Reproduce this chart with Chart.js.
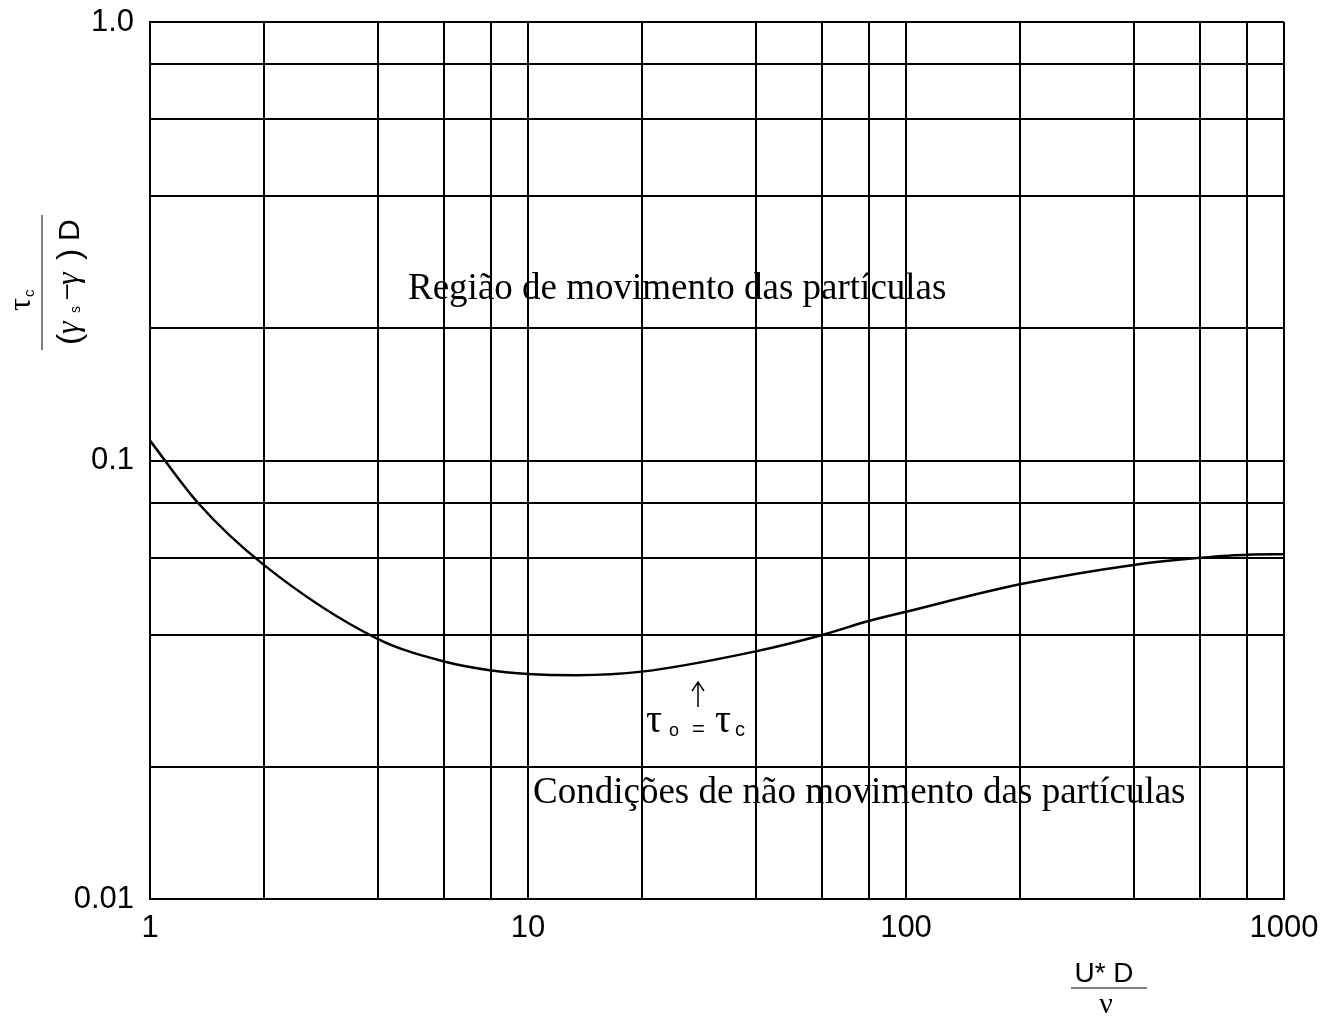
<!DOCTYPE html>
<html>
<head>
<meta charset="utf-8">
<title>Shields</title>
<script src="https://cdn.jsdelivr.net/npm/chart.js@4.4.1/dist/chart.umd.min.js"></script>
<style>
  html, body { margin: 0; padding: 0; background: #fff; }
  #wrap { width: 1337px; height: 1021px; }
</style>
</head>
<body>
<div id="wrap"><canvas id="myChart" width="1337" height="1021"></canvas></div>
<script>
// U*D/nu values
var reynolds = [1, 1.34, 2, 4, 6, 8, 10, 13.5, 20, 40, 60, 80, 100, 200, 400, 600, 800, 1000];
// tau_c / ((gamma_s - gamma) D)
var shields = [0.111, 0.080, 0.0578, 0.0392, 0.0348, 0.0332, 0.0326, 0.0324, 0.0330, 0.0367, 0.0400, 0.0431, 0.0452, 0.0522, 0.0578, 0.0600, 0.0610, 0.0611];

var xGrid = [1, 2, 4, 6, 8, 10, 20, 40, 60, 80, 100, 200, 400, 600, 800, 1000];
var xLabels = { 1: '1', 10: '10', 100: '100', 1000: '1000' };
var yGrid = [0.01, 0.02, 0.04, 0.06, 0.08, 0.1, 0.2, 0.4, 0.6, 0.8, 1];
var yLabels = { 0.01: '0.01', 0.1: '0.1', 1: '1.0' };

var points = [];
for (var i = 0; i < reynolds.length; i++) {
  points.push({ x: reynolds[i], y: shields[i] });
}

var sans = '"Liberation Sans", Arial, sans-serif';
var serif = '"Liberation Serif", "Times New Roman", serif';

// texts drawn on top of the chart
var textPlugin = {
  id: 'texts',
  afterDraw: function(chart) {
    var c = chart.ctx;
    c.save();
    c.fillStyle = '#000';
    c.strokeStyle = '#000';
    c.textBaseline = 'alphabetic';

    c.font = '37px ' + serif;
    c.textAlign = 'left';
    c.fillText('Região de movimento das partículas', 408, 299);
    c.fillText('Condições de não movimento das partículas', 533, 803);

    // tau_o = tau_c with arrow
    c.font = '40px ' + serif;
    c.fillText('τ', 646, 732);
    c.fillText('τ', 715, 732);
    c.font = '18px ' + sans;
    c.fillText('o', 669, 736);
    c.font = '20px ' + sans;
    c.fillText('c', 735, 736);
    c.font = '22px ' + sans;
    c.fillText('=', 692, 736);
    c.lineWidth = 1.5;
    c.beginPath();
    c.moveTo(698, 707); c.lineTo(698, 683);
    c.moveTo(692, 691); c.lineTo(698, 682); c.lineTo(704, 691);
    c.stroke();

    // x axis title: U*D / nu
    c.textAlign = 'center';
    c.font = '28px ' + sans;
    c.fillText('U* D', 1104, 982);
    c.lineWidth = 1;
    c.beginPath();
    c.moveTo(1071, 988); c.lineTo(1147, 988);
    c.stroke();
    c.font = '30px ' + serif;
    c.fillText('ν', 1106, 1013);

    // y axis title: tau_c / ((gamma_s - gamma) D)
    c.translate(42, 282);
    c.rotate(-Math.PI / 2);
    c.lineWidth = 1;
    c.beginPath();
    c.moveTo(-68, 0); c.lineTo(67, 0);
    c.stroke();
    c.textAlign = 'left';
    c.font = '32px ' + serif;
    c.fillText('τ', -29, -12);
    c.font = '15px ' + sans;
    c.fillText('c', -15, -8);
    c.font = '34px ' + sans;
    c.fillText('(', -63, 38);
    c.font = 'italic 32px ' + serif;
    c.fillText('γ', -52, 36);
    c.font = '14px ' + sans;
    c.fillText('s', -31, 38);
    c.font = '26px ' + sans;
    c.fillText('–', -17, 32);
    c.font = 'italic 32px ' + serif;
    c.fillText('γ', -3, 36);
    c.font = '34px ' + sans;
    c.fillText(')', 22, 38);
    c.font = '30px ' + sans;
    c.fillText('D', 41, 37);
    c.restore();
  }
};

var ctx = document.getElementById('myChart').getContext('2d');
var shieldsChart = new Chart(ctx, {
  type: 'scatter',
  data: {
    datasets: [{
      label: 'Shields',
      data: points,
      showLine: true,
      borderColor: '#000',
      borderWidth: 2.5,
      pointRadius: 0,
      cubicInterpolationMode: 'monotone',
      fill: false
    }]
  },
  options: {
    responsive: false,
    animation: false,
    layout: { padding: { top: 22, right: 53, left: 0, bottom: 0 } },
    plugins: {
      legend: { display: false },
      tooltip: { enabled: false }
    },
    scales: {
      x: {
        type: 'logarithmic',
        min: 1,
        max: 1000,
        afterBuildTicks: function(scale) {
          scale.ticks = xGrid.map(function(v) { return { value: v }; });
        },
        afterFit: function(scale) {
          scale.height = 122;
          scale.paddingLeft = 0;
          scale.paddingRight = 0;
        },
        ticks: {
          autoSkip: false,
          maxRotation: 0,
          padding: 11,
          color: '#000',
          font: { family: sans, size: 31 },
          callback: function(v) { return xLabels[v] || ''; }
        },
        grid: { color: '#000', lineWidth: 2, drawTicks: false },
        border: { color: '#000', width: 2 }
      },
      y: {
        type: 'logarithmic',
        min: 0.01,
        max: 1,
        afterBuildTicks: function(scale) {
          scale.ticks = yGrid.map(function(v) { return { value: v }; });
        },
        afterFit: function(scale) {
          scale.width = 150;
          scale.paddingTop = 0;
          scale.paddingBottom = 0;
        },
        ticks: {
          autoSkip: false,
          padding: 16,
          color: '#000',
          font: { family: sans, size: 31 },
          callback: function(v) { return yLabels[v] || ''; }
        },
        grid: { color: '#000', lineWidth: 2, drawTicks: false },
        border: { color: '#000', width: 2 }
      }
    }
  },
  plugins: [textPlugin]
});
</script>
</body>
</html>
